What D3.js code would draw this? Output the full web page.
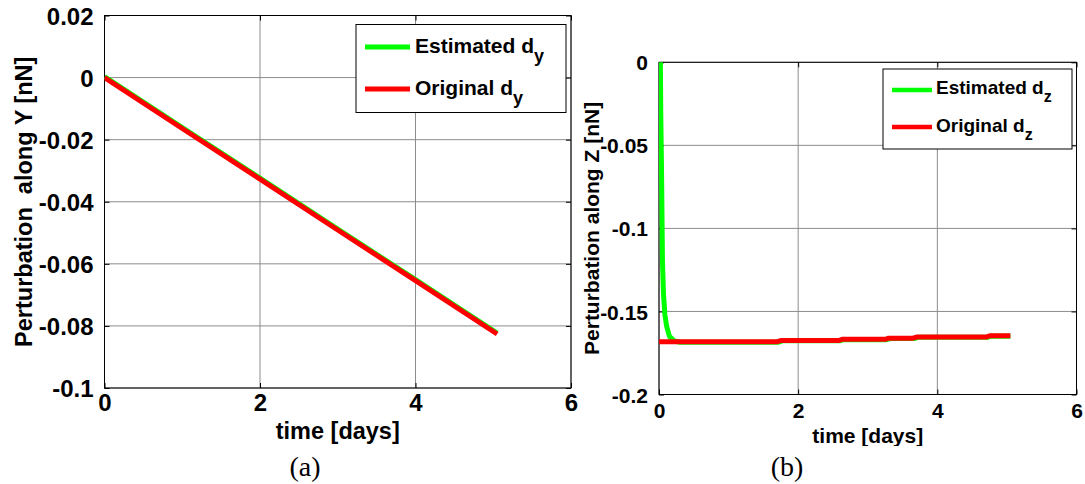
<!DOCTYPE html>
<html>
<head>
<meta charset="utf-8">
<script src="https://cdn.jsdelivr.net/npm/d3@7"></script>
<style>
  html, body { margin: 0; padding: 0; background: #fff; }
  svg { display: block; }
</style>
</head>
<body>
<svg id="chart" width="1085" height="484"></svg>
<script>
// ---------------- DATA ----------------
// Panel (a): perturbation along Y
const xTicksA = [0, 2, 4, 6];
const yTicksA = [0.02, 0, -0.02, -0.04, -0.06, -0.08, -0.1];
const yTickLabelsA = ["0.02", "0", "-0.02", "-0.04", "-0.06", "-0.08", "-0.1"];
const timeA = [0, 1, 2, 3, 4, 5, 5.05];
const estimatedDy = [0.0003, -0.0161, -0.0324, -0.0488, -0.0651, -0.0815, -0.0823];
const originalDy = [0, -0.0164, -0.0327, -0.0491, -0.0654, -0.0818, -0.0826];

// Panel (b): perturbation along Z
const xTicksB = [0, 2, 4, 6];
const yTicksB = [0, -0.05, -0.1, -0.15, -0.2];
const yTickLabelsB = ["0", "-0.05", "-0.1", "-0.15", "-0.2"];
const timeEstB = [0.02, 0.025, 0.035, 0.045, 0.05, 0.065, 0.085, 0.11, 0.15, 0.22, 0.3, 1.0, 1.72, 1.77, 2.6, 2.65, 3.27, 3.32, 3.67, 3.72, 4.72, 4.77, 5.05];
const estimatedDz = [0, -0.03, -0.06, -0.1, -0.12, -0.14, -0.152, -0.159, -0.165, -0.1678, -0.1685, -0.1685, -0.1685, -0.1677, -0.1677, -0.167, -0.167, -0.1663, -0.1663, -0.1656, -0.1656, -0.1649, -0.1649];
const timeOrigB = [0, 1.7, 1.75, 2.58, 2.63, 3.25, 3.3, 3.65, 3.7, 4.7, 4.75, 5.05];
const originalDz = [-0.1682, -0.1682, -0.1675, -0.1675, -0.1668, -0.1668, -0.1661, -0.1661, -0.1654, -0.1654, -0.1647, -0.1647];

const xLabel = "time [days]";
const yLabelA = "Perturbation  along Y [nN]";
const yLabelB = "Perturbation along Z [nN]";
const legendA = [["Estimated d", "y"], ["Original d", "y"]];
const legendB = [["Estimated d", "z"], ["Original d", "z"]];
const captionA = "(a)";
const captionB = "(b)";

// ---------------- DRAW ----------------
const svg = d3.select("#chart");
const SANS = "'Liberation Sans', Arial, sans-serif";
const SERIF = "'Liberation Serif', 'Times New Roman', serif";
const GREEN = "#00ff00", RED = "#ff0000";

function panel(cfg) {
  const g = svg.append("g");
  const x = d3.scaleLinear().domain([0, 6]).range([cfg.left, cfg.right]);
  const y = d3.scaleLinear().domain(cfg.yDomain).range([cfg.bottom, cfg.top]);

  // grid
  g.append("g").selectAll("line").data(cfg.xTicks).join("line")
    .attr("x1", d => x(d)).attr("x2", d => x(d))
    .attr("y1", cfg.top).attr("y2", cfg.bottom)
    .attr("stroke", "#8c8c8c").attr("stroke-width", 1);
  g.append("g").selectAll("line").data(cfg.yTicks).join("line")
    .attr("x1", cfg.left).attr("x2", cfg.right)
    .attr("y1", d => y(d)).attr("y2", d => y(d))
    .attr("stroke", "#8c8c8c").attr("stroke-width", 1);

  // axes via d3 axis (ticks inward)
  const fmtY = (d, i) => cfg.yTickLabels[i];
  const axL = g.append("g").attr("transform", `translate(${cfg.left},0)`)
    .call(d3.axisLeft(y).tickValues(cfg.yTicks).tickFormat(fmtY).tickSizeInner(-5).tickSizeOuter(0).tickPadding(11));
  const axB = g.append("g").attr("transform", `translate(0,${cfg.bottom})`)
    .call(d3.axisBottom(x).tickValues(cfg.xTicks).tickFormat(d3.format("d")).tickSizeInner(-5).tickSizeOuter(0).tickPadding(cfg.xPad));
  const axR = g.append("g").attr("transform", `translate(${cfg.right},0)`)
    .call(d3.axisRight(y).tickValues(cfg.yTicks).tickFormat("").tickSizeInner(-5).tickSizeOuter(0));
  const axT = g.append("g").attr("transform", `translate(0,${cfg.top})`)
    .call(d3.axisTop(x).tickValues(cfg.xTicks).tickFormat("").tickSizeInner(-5).tickSizeOuter(0));
  [axL, axB, axR, axT].forEach(a => {
    a.select(".domain").remove();
    a.selectAll("line").attr("stroke", "#000");
    a.selectAll("text").attr("font-family", SANS).attr("font-weight", "bold")
      .attr("font-size", cfg.tickFont).attr("fill", "#000");
  });
  axL.selectAll("text").attr("dy", "0.36em");
  axB.selectAll("text").attr("dy", "0.71em");

  // frame
  g.append("rect").attr("x", cfg.left).attr("y", cfg.top)
    .attr("width", cfg.right - cfg.left).attr("height", cfg.bottom - cfg.top)
    .attr("fill", "none").attr("stroke", "#000").attr("stroke-width", 1);

  // lines
  const clipId = "clip" + cfg.id;
  g.append("clipPath").attr("id", clipId).append("rect")
    .attr("x", cfg.left).attr("y", cfg.top - 3)
    .attr("width", cfg.right - cfg.left).attr("height", cfg.bottom - cfg.top + 3);
  const line = d3.line().x(d => x(d[0])).y(d => y(d[1]));
  g.append("path").datum(d3.zip(cfg.estT, cfg.estV)).attr("d", line)
    .attr("fill", "none").attr("stroke", GREEN).attr("stroke-width", cfg.estW)
    .attr("stroke-linejoin", "round").attr("clip-path", `url(#${clipId})`);
  g.append("path").datum(d3.zip(cfg.origT, cfg.origV)).attr("d", line)
    .attr("fill", "none").attr("stroke", RED).attr("stroke-width", cfg.origW)
    .attr("stroke-linejoin", "round").attr("clip-path", `url(#${clipId})`);

  // axis labels
  const xl = g.append("text").attr("x", (cfg.left + cfg.right) / 2).attr("y", cfg.xLabelY)
    .attr("text-anchor", "middle").attr("font-family", SANS).attr("font-weight", "bold")
    .attr("font-size", cfg.labelFont).text(xLabel);
  if (cfg.xLabelClip) {
    g.append("clipPath").attr("id", "xlc" + cfg.id).append("rect")
      .attr("x", 0).attr("y", 0).attr("width", 1085).attr("height", cfg.xLabelClip);
    xl.attr("clip-path", `url(#xlc${cfg.id})`);
  }
  g.append("text")
    .attr("transform", `translate(${cfg.yLabelX},${(cfg.top + cfg.bottom) / 2}) rotate(-90)`)
    .attr("text-anchor", "middle").attr("font-family", SANS).attr("font-weight", "bold")
    .attr("font-size", cfg.labelFont).attr("dy", "0.35em").attr("xml:space", "preserve")
    .style("white-space", "pre").text(cfg.yLabel);

  // legend
  const L = cfg.legend;
  g.append("rect").attr("x", L.x).attr("y", L.y).attr("width", L.w).attr("height", L.h)
    .attr("fill", "#fff").attr("stroke", "#000").attr("stroke-width", 1);
  const colors = [GREEN, RED];
  cfg.legendItems.forEach((it, i) => {
    const ly = L.rowY[i];
    g.append("line").attr("x1", L.lineX0).attr("x2", L.lineX1).attr("y1", ly).attr("y2", ly)
      .attr("stroke", colors[i]).attr("stroke-width", L.lineW);
    const t = g.append("text").attr("x", L.textX).attr("y", L.baseY[i])
      .attr("font-family", SANS).attr("font-weight", "bold").attr("font-size", L.font);
    t.append("tspan").text(it[0]);
    t.append("tspan").attr("dy", L.subDy).attr("font-size", L.subFont).text(it[1]);
  });

  // caption
  g.append("text").attr("x", cfg.captionX).attr("y", cfg.captionY).attr("text-anchor", "middle")
    .attr("font-family", SERIF).attr("font-size", 28).text(cfg.caption);
}

panel({
  id: "A", left: 104.5, right: 571, top: 15.5, bottom: 388,
  yDomain: [-0.1, 0.02], xTicks: xTicksA, yTicks: yTicksA, yTickLabels: yTickLabelsA,
  estT: timeA, estV: estimatedDy, origT: timeA, origV: originalDy, estW: 5, origW: 5,
  tickFont: 24, labelFont: 23.5, xPad: 6, xLabelY: 439, yLabelX: 24, yLabel: yLabelA,
  legendItems: legendA,
  legend: { x: 356, y: 24.5, w: 210, h: 88, lineX0: 365, lineX1: 410, lineW: 5,
            rowY: [47, 89], textX: 415, baseY: [52.5, 95], font: 21, subFont: 18, subDy: 9 },
  caption: captionA, captionX: 305, captionY: 476
});

panel({
  id: "B", left: 659, right: 1076.5, top: 62.3, bottom: 394.5,
  yDomain: [-0.2, 0], xTicks: xTicksB, yTicks: yTicksB, yTickLabels: yTickLabelsB,
  estT: timeEstB, estV: estimatedDz, origT: timeOrigB, origV: originalDz, estW: 5, origW: 5,
  tickFont: 21, labelFont: 21, xPad: 9, xLabelY: 443, xLabelClip: 446, yLabelX: 592, yLabel: yLabelB,
  legendItems: legendB,
  legend: { x: 883, y: 69, w: 189, h: 80, lineX0: 892, lineX1: 932, lineW: 4.5,
            rowY: [90, 127], textX: 936, baseY: [94, 131.5], font: 19, subFont: 16, subDy: 8 },
  caption: captionB, captionX: 787, captionY: 476
});
</script>
</body>
</html>
